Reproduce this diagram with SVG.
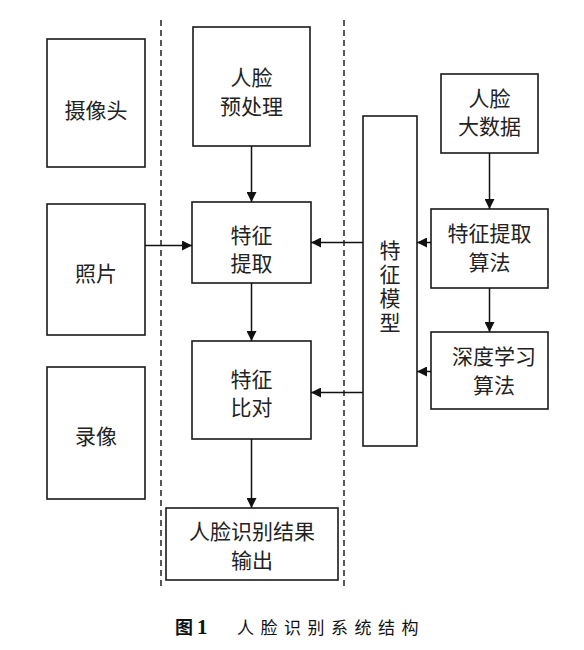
<svg xmlns="http://www.w3.org/2000/svg" width="584" height="650" viewBox="0 0 584 650">
<style>
.box{fill:#fff;stroke:#1a1a1a;stroke-width:1.6}
.t{font-family:"Noto Sans CJK SC","Noto Sans CJK JP",sans-serif;font-size:21px;fill:#222;text-anchor:middle}
.ln{stroke:#111;stroke-width:1.5;fill:none}
.dash{stroke:#222;stroke-width:1.5;stroke-dasharray:6 4;fill:none}
</style>
<defs>
<marker id="ah" viewBox="0 0 10 10" refX="10" refY="5" markerWidth="10" markerHeight="10" markerUnits="userSpaceOnUse" orient="auto">
<path d="M0,0 L10,5 L0,10 z" fill="#111"/>
</marker>
</defs>
<rect width="584" height="650" fill="#fff"/>
<g id="dividers">
<line class="dash" x1="161" y1="20" x2="161" y2="590"/>
<line class="dash" x1="344" y1="20" x2="344" y2="590"/>
</g>
<g id="camera"><rect class="box" x="47" y="39" width="98" height="128"/><text class="t" x="96" y="118">摄像头</text></g>
<g id="photo"><rect class="box" x="47" y="204" width="98" height="131"/><text class="t" x="96" y="281">照片</text></g>
<g id="video"><rect class="box" x="47" y="367" width="98" height="132"/><text class="t" x="96" y="444">录像</text></g>
<g id="preprocess"><rect class="box" x="193" y="27" width="117" height="119"/><text class="t" x="251.5" y="85">人脸</text><text class="t" x="251.5" y="114">预处理</text></g>
<g id="extract"><rect class="box" x="192" y="202" width="119" height="81"/><text class="t" x="251.5" y="243">特征</text><text class="t" x="251.5" y="271">提取</text></g>
<g id="compare"><rect class="box" x="192" y="341" width="119" height="98"/><text class="t" x="251.5" y="387">特征</text><text class="t" x="251.5" y="415">比对</text></g>
<g id="output"><rect class="box" x="166" y="508" width="172" height="72"/><text class="t" x="252" y="539">人脸识别结果</text><text class="t" x="252" y="568">输出</text></g>
<g id="model"><rect class="box" x="363" y="116" width="54" height="330"/>
<text class="t" x="390" y="288" writing-mode="vertical-rl" letter-spacing="3">特征模型</text></g>
<g id="bigdata"><rect class="box" x="441" y="74" width="97" height="79"/><text class="t" x="489.5" y="106">人脸</text><text class="t" x="489.5" y="134">大数据</text></g>
<g id="algo"><rect class="box" x="431" y="209" width="117" height="79"/><text class="t" x="489.5" y="241">特征提取</text><text class="t" x="489.5" y="270">算法</text></g>
<g id="deep"><rect class="box" x="431" y="332" width="117" height="77"/><text class="t" x="494" y="364">深度学习</text><text class="t" x="494" y="393">算法</text></g>
<g id="connectors">
<line class="ln" x1="251.5" y1="146" x2="251.5" y2="202" marker-end="url(#ah)"/>
<line class="ln" x1="251.5" y1="283" x2="251.5" y2="341" marker-end="url(#ah)"/>
<line class="ln" x1="251.5" y1="439" x2="251.5" y2="508" marker-end="url(#ah)"/>
<line class="ln" x1="145" y1="245.5" x2="192" y2="245.5" marker-end="url(#ah)"/>
<line class="ln" x1="363" y1="242.5" x2="311" y2="242.5" marker-end="url(#ah)"/>
<line class="ln" x1="363" y1="392.5" x2="311" y2="392.5" marker-end="url(#ah)"/>
<line class="ln" x1="431" y1="242.5" x2="417" y2="242.5" marker-end="url(#ah)"/>
<line class="ln" x1="431" y1="371.5" x2="417" y2="371.5" marker-end="url(#ah)"/>
<line class="ln" x1="489.5" y1="153" x2="489.5" y2="209" marker-end="url(#ah)"/>
<line class="ln" x1="489.5" y1="288" x2="489.5" y2="332" marker-end="url(#ah)"/>
</g>
<g id="caption">
<text x="175" y="634" font-family="Noto Sans CJK SC, sans-serif" font-size="18" font-weight="bold" fill="#111">图<tspan dx="4" font-family="Liberation Serif, serif" font-size="21">1</tspan></text>
<text x="237" y="634" font-family="Noto Sans CJK SC, sans-serif" font-size="17" letter-spacing="6.5" fill="#111">人脸识别系统结构</text>
</g>
</svg>
